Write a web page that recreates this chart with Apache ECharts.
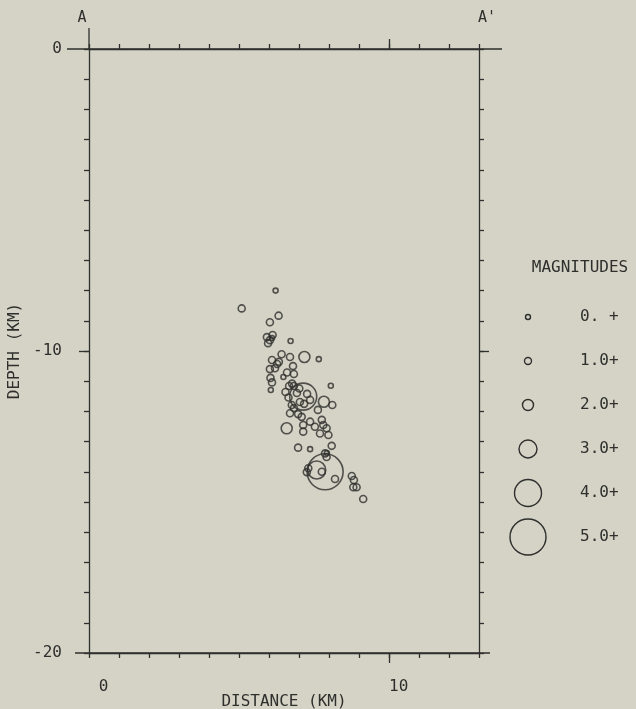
<!DOCTYPE html>
<html>
<head>
<meta charset="utf-8">
<script src="https://cdn.jsdelivr.net/npm/echarts@6/dist/echarts.min.js"></script>
<style>
  html, body { margin: 0; padding: 0; background: #d4d3c6; }
  #chart { width: 636px; height: 709px; }
</style>
</head>
<body>
<div id="chart"></div>
<script>
  // distance along A-A' (km), depth (km, negative down), magnitude
  var distKm = [
    6.22, 5.09, 6.32, 6.03, 6.12, 6.03, 5.97, 6.10, 6.72, 7.18,
    7.66, 6.42, 6.70, 6.10, 6.27, 6.20, 6.03, 6.80, 6.60, 6.83,
    6.48, 6.05, 6.10, 6.06, 6.77, 6.83, 6.55, 6.65, 7.01, 8.06,
    7.14, 6.93, 7.27, 7.03, 7.37, 7.17, 7.83, 8.11, 7.63, 6.76,
    6.70, 6.59, 7.09, 7.14, 7.14, 7.37, 7.53, 7.76, 7.81, 7.70,
    7.92, 7.98, 6.97, 7.37, 8.09, 7.87, 7.92, 7.87, 7.59, 7.31,
    7.26, 7.76, 8.20, 8.76, 8.83, 8.81, 8.92, 9.14,
    5.93, 6.33, 6.67, 6.83, 6.97, 7.93
  ];
  var depthKm = [
    -8.00, -8.59, -8.83, -9.05, -9.47, -9.64, -9.74, -9.57, -9.67, -10.20,
    -10.27, -10.11, -10.20, -10.30, -10.43, -10.57, -10.60, -10.50, -10.71, -10.76,
    -10.86, -10.89, -11.04, -11.29, -11.08, -11.16, -11.36, -11.54, -11.24, -11.15,
    -11.51, -11.39, -11.42, -11.69, -11.62, -11.75, -11.68, -11.79, -11.95, -11.79,
    -12.06, -12.56, -12.18, -12.45, -12.67, -12.34, -12.51, -12.28, -12.45, -12.73,
    -12.56, -12.78, -13.20, -13.25, -13.14, -13.39, -13.51, -14.00, -13.94, -13.88,
    -14.01, -14.00, -14.24, -14.14, -14.27, -14.51, -14.51, -14.90,
    -9.54, -10.36, -11.16, -11.89, -12.09, -13.38
  ];
  var mags = [
    0.6, 1.4, 1.2, 1.1, 1.2, 1.3, 1.2, 0.8, 0.7, 2.1,
    0.6, 1.1, 1.2, 1.1, 1.5, 1.3, 1.2, 1.2, 1.3, 1.2,
    0.8, 1.2, 1.3, 0.7, 1.4, 1.3, 1.2, 1.5, 1.3, 0.7,
    4.1, 1.2, 1.3, 1.2, 1.4, 1.2, 2.2, 1.3, 1.4, 1.4,
    1.3, 2.3, 1.2, 1.5, 1.3, 1.2, 1.3, 1.4, 1.2, 1.5,
    1.2, 1.3, 1.2, 0.8, 1.3, 1.2, 1.3, 5.0, 3.2, 1.3,
    1.2, 1.5, 1.3, 1.2, 1.3, 1.4, 1.2, 1.3,
    1.1, 1.2, 1.1, 1.3, 1.2, 0.9
  ];

  var magLabels = ['0. +', '1.0+', '2.0+', '3.0+', '4.0+', '5.0+'];
  var magSizes = [5, 7, 11, 18, 27, 36];

  var xTickLabels = { 0: ' 0', 10: '10' };
  var yTickLabels = { 0: '0', '-10': '-10', '-20': '-20' };

  var ink = '#2f2f2d';
  var mono = 'DejaVu Sans Mono';

  var chart = echarts.init(document.getElementById('chart'));

  var points = distKm.map(function (d, i) {
    return [d, depthKm[i], mags[i]];
  });

  function sizeOf(m) {
    return magSizes[Math.min(magSizes.length - 1, Math.floor(m))];
  }

  var lineStyle = { color: ink, width: 1.3 };

  function minorAxis(pos, min, max, extra) {
    return Object.assign({
      type: 'value', position: pos, min: min, max: max, interval: 1,
      axisLine: { show: true, onZero: false, lineStyle: lineStyle },
      axisTick: { show: true, length: 5, lineStyle: lineStyle },
      axisLabel: { show: false },
      splitLine: { show: false }
    }, extra || {});
  }
  function majorAxis(pos, min, max, val) {
    return {
      type: 'value', position: pos, min: min, max: max, interval: 10,
      axisLine: { show: false, onZero: false },
      axisTick: { show: true, length: 10, customValues: [val], lineStyle: lineStyle },
      axisLabel: { show: false },
      splitLine: { show: false }
    };
  }

  chart.setOption({
    backgroundColor: '#d4d3c6',
    animation: false,
    grid: { left: 89, top: 49, width: 390, height: 604, containLabel: false, outerBoundsMode: 'none' },
    xAxis: [
      minorAxis('bottom', 0, 13, {
        name: 'DISTANCE (KM)',
        nameLocation: 'middle',
        nameGap: 49,
        nameMoveOverlap: false,
        nameTextStyle: { color: ink, fontFamily: mono, fontSize: 16, verticalAlign: 'middle' },
        axisLabel: {
          show: true, margin: 26, align: 'left', color: ink,
          fontFamily: mono, fontSize: 16,
          formatter: function (v) { return xTickLabels[v] || ''; }
        }
      }),
      majorAxis('bottom', 0, 13, 10),
      minorAxis('top', 0, 13),
      majorAxis('top', 0, 13, 10)
    ],
    yAxis: [
      minorAxis('left', -20, 0, {
        name: 'DEPTH (KM)',
        nameLocation: 'middle',
        nameGap: 66,
        nameRotate: 90,
        nameMoveOverlap: false,
        nameTextStyle: { color: ink, fontFamily: mono, fontSize: 16 },
        axisLabel: {
          show: true, margin: 27, color: ink,
          fontFamily: mono, fontSize: 16,
          formatter: function (v) { return yTickLabels[v] || ''; }
        }
      }),
      majorAxis('left', -20, 0, -10),
      minorAxis('right', -20, 0),
      majorAxis('right', -20, 0, -10)
    ],
    series: [{
      type: 'scatter',
      xAxisIndex: 0,
      yAxisIndex: 0,
      symbol: 'circle',
      symbolSize: function (v) { return sizeOf(v[2]); },
      itemStyle: { color: 'rgba(0,0,0,0)', borderColor: ink, borderWidth: 1.6 },
      data: points
    }]
  });

  // frame extensions, section labels and the magnitude key
  var p0 = chart.convertToPixel({ xAxisIndex: 0, yAxisIndex: 0 }, [0, 0]);
  var p1 = chart.convertToPixel({ xAxisIndex: 0, yAxisIndex: 0 }, [13, -20]);

  var graphics = [
    { type: 'line', shape: { x1: p0[0] - 22, y1: p0[1], x2: p1[0] + 23, y2: p0[1] }, style: { stroke: ink, lineWidth: 1.3 } },
    { type: 'line', shape: { x1: p0[0], y1: p0[1] - 21, x2: p0[0], y2: p0[1] }, style: { stroke: ink, lineWidth: 1.3 } },
    { type: 'line', shape: { x1: p0[0] - 14, y1: p1[1], x2: p1[0] + 11, y2: p1[1] }, style: { stroke: ink, lineWidth: 1.3 } },
    { type: 'text', x: p0[0] - 7, y: p0[1] - 31, style: { text: 'A', fill: ink, font: '15px ' + mono, align: 'center', verticalAlign: 'middle' } },
    { type: 'text', x: p1[0] + 8, y: p0[1] - 31, style: { text: "A'", fill: ink, font: '15px ' + mono, align: 'center', verticalAlign: 'middle' } },
    { type: 'text', x: 580, y: 268, style: { text: 'MAGNITUDES', fill: ink, font: '16px ' + mono, align: 'center', verticalAlign: 'middle' } }
  ];
  magLabels.forEach(function (lab, i) {
    var cy = 317 + i * 44;
    graphics.push({ type: 'circle', shape: { cx: 528, cy: cy, r: magSizes[i] / 2 }, style: { fill: 'none', stroke: ink, lineWidth: 1.4 } });
    graphics.push({ type: 'text', x: 580, y: cy, style: { text: lab, fill: ink, font: '16px ' + mono, align: 'left', verticalAlign: 'middle' } });
  });
  chart.setOption({ graphic: graphics });
</script>
</body>
</html>
